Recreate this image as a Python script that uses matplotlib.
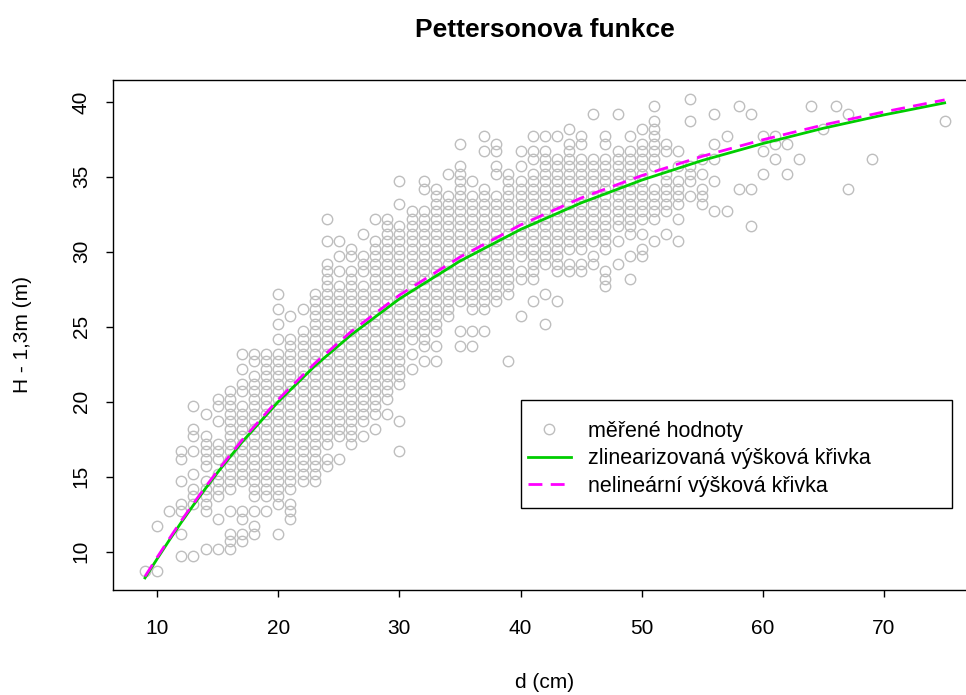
import numpy as np
import matplotlib.pyplot as plt
from matplotlib.patches import Rectangle

plt.rcParams['font.family'] = ['Liberation Sans', 'DejaVu Sans']

# namerene vysky (H - 1,3 m) podle tloustkoveho stupne d (cm)
h09 = [8.7]
h10 = [8.7, 11.7]
h11 = [12.7]
h12 = [9.7, 11.2, 12.7, 13.2, 14.7, 16.2, 16.7]
h13 = [9.7, 13.2, 13.7, 14.2, 15.2, 16.7, 17.7, 18.2, 19.7]
h14 = [10.2, 12.7, 13.2, 13.7, 14.2, 14.7, 15.7, 16.2, 16.7, 17.2, 17.7, 19.2]
h15 = [10.2, 12.2, 13.7, 14.2, 14.7, 15.2, 16.2, 16.7, 17.2, 18.7, 19.7, 20.2]
h16 = [10.2, 10.7, 11.2, 12.7, 14.2, 14.7, 15.2, 15.7, 16.2, 16.7, 17.2, 17.7,
       18.2, 18.7, 19.2, 19.7, 20.2, 20.7]
h17 = [10.7, 11.2, 12.2, 12.7, 14.7, 15.2, 15.7, 16.2, 16.7, 17.2, 17.7, 18.2,
       18.7, 19.2, 19.7, 20.7, 21.2, 22.2, 23.2]
h18 = [11.2, 11.7, 12.7, 13.7, 14.2, 14.7, 15.2, 15.7, 16.2, 16.7, 17.2, 17.7,
       18.2, 18.7, 19.2, 19.7, 20.2, 20.7, 21.2, 21.7, 22.7, 23.2]
h19 = [12.7, 13.7, 14.2, 14.7, 15.2, 15.7, 16.2, 16.7, 17.2, 17.7, 18.2, 18.7,
       19.2, 19.7, 20.2, 20.7, 21.2, 21.7, 22.2, 22.7, 23.2]
h20 = [11.2, 13.2, 13.7, 14.2, 14.7, 15.2, 15.7, 16.2, 16.7, 17.2, 17.7, 18.2,
       18.7, 19.2, 19.7, 20.2, 20.7, 21.2, 21.7, 22.2, 22.7, 23.2, 24.2, 25.2,
       26.2, 27.2]
h21 = [12.2, 12.7, 13.2, 14.2, 14.7, 15.2, 15.7, 16.2, 16.7, 17.2, 17.7, 18.2,
       18.7, 19.2, 19.7, 20.2, 20.7, 21.2, 21.7, 22.2, 22.7, 23.2, 23.7, 24.2,
       25.7]
h22 = [14.7, 15.2, 15.7, 16.2, 16.7, 17.2, 17.7, 18.2, 18.7, 19.2, 19.7, 20.2,
       20.7, 21.2, 21.7, 22.2, 22.7, 23.2, 23.7, 24.2, 24.7, 26.2]
h23 = [14.7, 15.2, 15.7, 16.2, 16.7, 17.2, 17.7, 18.2, 18.7, 19.2, 19.7, 20.2,
       20.7, 21.2, 21.7, 22.2, 22.7, 23.2, 23.7, 24.2, 24.7, 25.2, 25.7, 26.2,
       26.7, 27.2]
h24 = [15.7, 16.2, 17.2, 17.7, 18.2, 18.7, 19.2, 19.7, 20.2, 20.7, 21.2, 21.7,
       22.2, 22.7, 23.2, 23.7, 24.2, 24.7, 25.2, 25.7, 26.2, 26.7, 27.2, 27.7,
       28.2, 28.7, 29.2, 30.7, 32.2]
h25 = [16.2, 17.7, 18.2, 18.7, 19.2, 19.7, 20.2, 20.7, 21.2, 21.7, 22.2, 22.7,
       23.2, 23.7, 24.2, 24.7, 25.2, 25.7, 26.2, 26.7, 27.2, 27.7, 28.7, 29.7,
       30.7]
h26 = [17.2, 17.7, 18.2, 18.7, 19.2, 19.7, 20.2, 20.7, 21.2, 21.7, 22.2, 22.7,
       23.2, 23.7, 24.2, 24.7, 25.2, 25.7, 26.2, 26.7, 27.2, 27.7, 28.2, 28.7,
       29.7, 30.2]
h27 = [17.7, 18.7, 19.2, 19.7, 20.2, 20.7, 21.2, 21.7, 22.2, 22.7, 23.2, 23.7,
       24.2, 24.7, 25.2, 25.7, 26.2, 26.7, 27.2, 27.7, 28.7, 29.2, 29.7, 31.2]
h28 = [18.2, 19.2, 19.7, 20.2, 20.7, 21.2, 21.7, 22.2, 22.7, 23.2, 23.7, 24.2,
       24.7, 25.2, 25.7, 26.2, 26.7, 27.2, 27.7, 28.2, 28.7, 29.2, 29.7, 30.2,
       30.7, 32.2]
h29 = [19.2, 20.2, 20.7, 21.2, 21.7, 22.2, 22.7, 23.2, 23.7, 24.2, 24.7, 25.2,
       25.7, 26.2, 26.7, 27.2, 27.7, 28.2, 28.7, 29.2, 29.7, 30.2, 30.7, 31.2,
       31.7, 32.2]
h30 = [16.7, 18.7, 21.2, 21.7, 22.2, 22.7, 23.2, 23.7, 24.2, 24.7, 25.2, 25.7,
       26.2, 26.7, 27.2, 27.7, 28.2, 28.7, 29.2, 29.7, 30.2, 30.7, 31.2, 31.7,
       33.2, 34.7]
h31 = [22.2, 23.2, 24.2, 24.7, 25.2, 25.7, 26.2, 26.7, 27.2, 27.7, 28.2, 28.7,
       29.2, 29.7, 30.2, 30.7, 31.2, 31.7, 32.2, 32.7]
h32 = [22.7, 23.7, 24.2, 24.7, 25.2, 25.7, 26.2, 26.7, 27.2, 27.7, 28.2, 28.7,
       29.2, 29.7, 30.2, 30.7, 31.2, 31.7, 32.2, 32.7, 34.2, 34.7]
h33 = [22.7, 23.7, 24.7, 25.2, 25.7, 26.2, 26.7, 27.2, 27.7, 28.2, 28.7, 29.2,
       29.7, 30.2, 30.7, 31.2, 31.7, 32.2, 32.7, 33.2, 33.7, 34.2]
h34 = [25.7, 26.2, 26.7, 27.2, 27.7, 28.2, 28.7, 29.2, 29.7, 30.2, 30.7, 31.2,
       31.7, 32.2, 32.7, 33.2, 33.7, 35.2]
h35 = [23.7, 24.7, 26.7, 27.2, 27.7, 28.2, 28.7, 29.2, 29.7, 30.2, 30.7, 31.2,
       31.7, 32.2, 32.7, 33.2, 33.7, 34.2, 34.7, 35.2, 35.7, 37.2]
h36 = [23.7, 24.7, 26.2, 26.7, 27.2, 27.7, 28.2, 28.7, 29.2, 29.7, 30.2, 30.7,
       31.2, 31.7, 32.2, 32.7, 33.2, 33.7, 34.7]
h37 = [24.7, 26.2, 26.7, 27.2, 27.7, 28.2, 28.7, 29.2, 29.7, 30.2, 30.7, 31.2,
       31.7, 32.2, 32.7, 33.2, 33.7, 34.2, 36.7, 37.7]
h38 = [26.7, 27.2, 27.7, 28.2, 28.7, 29.2, 29.7, 30.2, 30.7, 31.2, 31.7, 32.2,
       32.7, 33.2, 33.7, 35.2, 35.7, 36.7, 37.2]
h39 = [22.7, 27.2, 27.7, 28.2, 28.7, 29.2, 29.7, 30.2, 30.7, 31.2, 31.7, 32.2,
       32.7, 33.2, 33.7, 34.2, 34.7, 35.2]
h40 = [25.7, 28.2, 28.7, 29.7, 30.2, 30.7, 31.2, 31.7, 32.2, 32.7, 33.2, 33.7,
       34.2, 34.7, 35.7, 36.7]
h41 = [26.7, 28.2, 28.7, 29.2, 29.7, 30.2, 30.7, 31.2, 31.7, 32.2, 32.7, 33.2,
       33.7, 34.2, 34.7, 35.2, 36.2, 36.7, 37.7]
h42 = [25.2, 27.2, 29.2, 29.7, 30.2, 30.7, 31.2, 31.7, 32.2, 32.7, 33.2, 33.7,
       34.2, 34.7, 35.2, 35.7, 36.2, 36.7, 37.7]
h43 = [26.7, 28.7, 29.2, 29.7, 30.2, 30.7, 31.2, 31.7, 32.2, 32.7, 33.2, 33.7,
       34.2, 34.7, 35.2, 35.7, 36.2, 37.7]
h44 = [28.7, 29.2, 30.2, 30.7, 31.2, 31.7, 32.2, 32.7, 33.2, 33.7, 34.2, 34.7,
       35.2, 35.7, 36.2, 36.7, 37.2, 38.2]
h45 = [28.7, 29.2, 30.2, 30.7, 31.2, 31.7, 32.2, 32.7, 33.2, 33.7, 34.2, 34.7,
       35.2, 35.7, 36.2, 37.2, 37.7]
h46 = [29.2, 29.7, 30.7, 31.2, 31.7, 32.2, 32.7, 33.2, 33.7, 34.2, 34.7, 35.2,
       35.7, 36.2, 39.2]
h47 = [27.7, 28.2, 28.7, 30.2, 30.7, 31.2, 31.7, 32.2, 32.7, 33.2, 33.7, 34.2,
       34.7, 35.2, 35.7, 36.2, 37.2, 37.7]
h48 = [29.2, 30.7, 31.7, 32.2, 32.7, 33.2, 33.7, 34.2, 34.7, 35.2, 35.7, 36.2,
       36.7, 39.2]
h49 = [28.2, 29.7, 31.2, 31.7, 32.2, 32.7, 33.2, 33.7, 34.2, 34.7, 35.2, 35.7,
       36.2, 36.7, 37.7]
h50 = [29.7, 30.2, 31.2, 32.2, 32.7, 33.2, 33.7, 34.2, 34.7, 35.2, 35.7, 36.2,
       36.7, 37.2, 38.2]
h51 = [30.7, 32.2, 32.7, 33.2, 33.7, 34.2, 35.7, 36.2, 36.7, 37.2, 37.7, 38.2,
       38.7, 39.7]
h52 = [31.2, 32.7, 33.2, 33.7, 34.2, 34.7, 35.2, 36.7, 37.2]
h53 = [30.7, 32.2, 33.2, 33.7, 34.2, 34.7, 35.7, 36.7]
h54 = [33.7, 34.7, 35.2, 35.7, 38.7, 40.2]
h55 = [33.2, 33.7, 34.2, 35.2, 36.2]
h56 = [32.7, 34.7, 36.2, 37.2, 39.2]
h57 = [32.7, 37.7]
h58 = [34.2, 39.7]
h59 = [31.7, 34.2, 39.2]
h60 = [35.2, 36.7, 37.7]
h61 = [36.2, 37.2, 37.7]
h62 = [35.2, 37.2]
h63 = [36.2]
h64 = [39.7]
h65 = [38.2]
h66 = [39.7]
h67 = [34.2, 39.2]
h69 = [36.2]
h75 = [38.7]

columns = [(9, h09), (10, h10), (11, h11), (12, h12), (13, h13), (14, h14),
           (15, h15), (16, h16), (17, h17), (18, h18), (19, h19), (20, h20),
           (21, h21), (22, h22), (23, h23), (24, h24), (25, h25), (26, h26),
           (27, h27), (28, h28), (29, h29), (30, h30), (31, h31), (32, h32),
           (33, h33), (34, h34), (35, h35), (36, h36), (37, h37), (38, h38),
           (39, h39), (40, h40), (41, h41), (42, h42), (43, h43), (44, h44),
           (45, h45), (46, h46), (47, h47), (48, h48), (49, h49), (50, h50),
           (51, h51), (52, h52), (53, h53), (54, h54), (55, h55), (56, h56),
           (57, h57), (58, h58), (59, h59), (60, h60), (61, h61), (62, h62),
           (63, h63), (64, h64), (65, h65), (66, h66), (67, h67), (69, h69),
           (75, h75)]

# vyrovnane vyskove krivky
d_fit = [9, 10, 11, 12, 13, 14, 15, 17, 20, 23, 26, 30, 35, 40, 45, 50, 55,
         60, 65, 70, 75]
h_lin = [8.25, 9.52, 10.76, 11.96, 13.11, 14.22, 15.29, 17.30, 20.0, 22.37,
         24.45, 26.86, 29.38, 31.49, 33.26, 34.78, 36.09, 37.22, 38.24, 39.13,
         39.93]
h_nelin = [8.35, 9.62, 10.86, 12.07, 13.22, 14.33, 15.40, 17.43, 20.15, 22.55,
           24.67, 27.11, 29.65, 31.79, 33.59, 35.08, 36.37, 37.47, 38.46,
           39.33, 40.13]

d = []
h = []
for dd, hh in columns:
    d += [dd] * len(hh)
    h += hh
d = np.array(d, dtype=float)
h = np.array(h)

fig = plt.figure(figsize=(9.66, 6.95), dpi=100)
ax = fig.add_axes([0.117, 0.151, 0.894, 0.734])

ax.plot(d, h, 'o', mfc='none', mec='#BEBEBE', ms=7.5, mew=1.0,
        label='měřené hodnoty')
ax.plot(d_fit, h_lin, color='#00CD00', lw=2.0,
        label='zlinearizovaná výšková křivka')
ax.plot(d_fit, h_nelin, color='#FF00FF', lw=2.0, ls=(0, (5, 3)),
        label='nelineární výšková křivka')

ax.set_xlim(6.36, 77.64)
ax.set_ylim(7.44, 41.46)
ax.set_xticks(range(10, 71, 10))
ax.set_yticks(range(10, 41, 5))
for s in ax.spines.values():
    s.set_linewidth(1.0)
ax.tick_params(direction='out', length=5, width=1.0, labelsize=15)
ax.tick_params(axis='x', pad=16)
ax.tick_params(axis='y', pad=11)
for lab in ax.get_yticklabels():
    lab.set_rotation(90)
    lab.set_va('center')

ax.set_xlabel('d (cm)', fontsize=15)
ax.xaxis.set_label_coords(0.5, -0.182)
ax.xaxis.label.set_va('center')
ax.set_ylabel('H - 1,3m (m)', fontsize=15)
ax.yaxis.set_label_coords(-0.105, 0.5)
ax.yaxis.label.set_va('center')

fig.text(0.564, 0.957, 'Pettersonova funkce', fontsize=19, fontweight='bold',
         ha='center', va='center')

# ramecek legendy zvlast, aby sel nastavit okraj
ax.add_patch(Rectangle((0.4722, 0.1608), 0.4988, 0.2118, transform=ax.transAxes,
                       facecolor='white', edgecolor='black', lw=1.0, zorder=4))
leg = ax.legend(loc='upper left', bbox_to_anchor=(0.4803, 0.3314),
                borderaxespad=0, borderpad=0, fontsize=15.5, frameon=False,
                handlelength=2.0, handletextpad=0.8, labelspacing=0.30)
leg.set_zorder(5)

fig.savefig('out.png', dpi=100)
